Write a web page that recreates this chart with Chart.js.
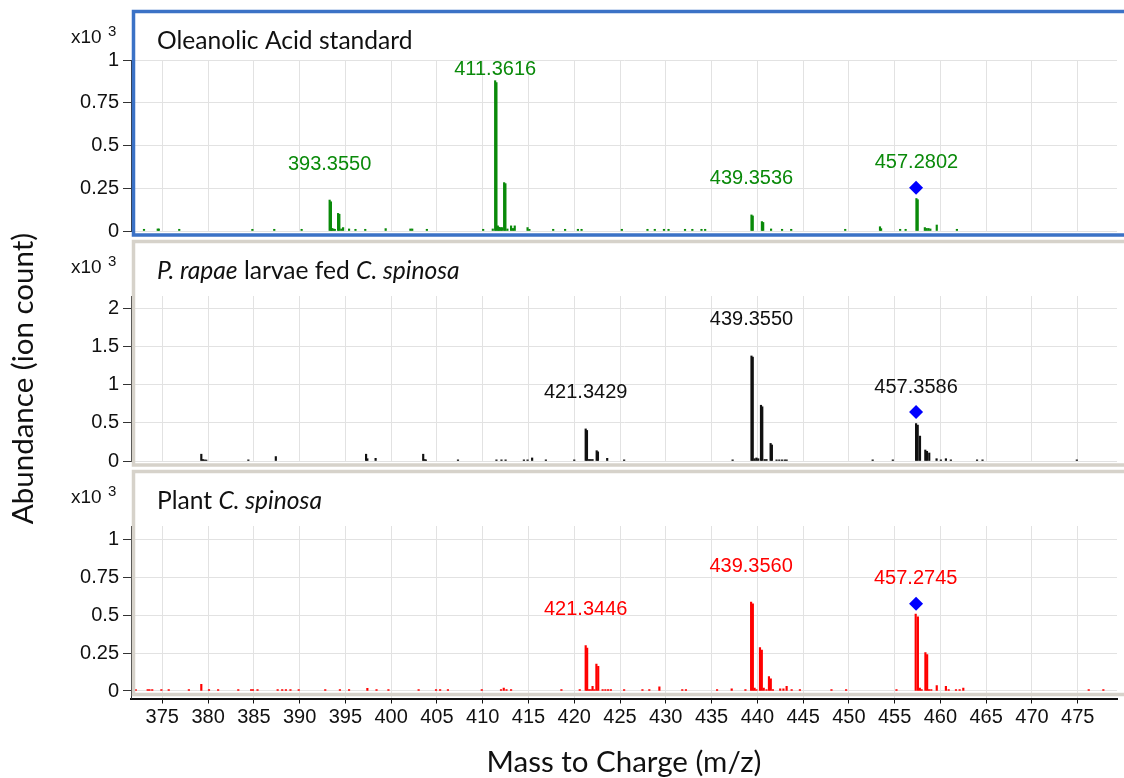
<!DOCTYPE html>
<html>
<head>
<meta charset="utf-8">
<script src="https://cdn.jsdelivr.net/npm/chart.js@4.4.1/dist/chart.umd.min.js"></script>
<style>
  body { margin: 0; background: #fff; }
  #wrap { position: relative; width: 1124px; height: 778px; overflow: hidden; }
  #wrap canvas { position: absolute; left: 0; top: 0; }
</style>
</head>
<body>
<div id="wrap">
  <canvas id="oleanolicChart" width="1124" height="778"></canvas>
  <canvas id="larvaeChart" width="1124" height="778"></canvas>
  <canvas id="plantChart" width="1124" height="778"></canvas>
</div>
<script>
// x axis (m/z)
const mzTicks = [375, 380, 385, 390, 395, 400, 405, 410, 415, 420, 425, 430, 435, 440, 445, 450, 455, 460, 465, 470, 475];
const mzMin = 371.58;
const mzMax = 479.29;

// y ticks (x10^3 counts)
const oleanolicTicks = [0, 0.25, 0.5, 0.75, 1];
const larvaeTicks = [0, 0.5, 1, 1.5, 2];
const plantTicks = [0, 0.25, 0.5, 0.75, 1];

// Oleanolic acid standard
const oleanolicMz = [373.0, 374.5, 374.62, 376.85, 384.84, 387.23, 390.22, 393.28, 393.42, 393.55, 393.7, 393.85, 394.2, 394.34, 394.55, 394.75, 395.4, 396.1, 397.17, 399.4, 402.1, 402.3, 403.9, 410.05, 411.1, 411.36, 411.5, 411.65, 411.8, 411.95, 412.1, 412.34, 412.48, 412.7, 413.1, 413.3, 413.5, 414.9, 415.1, 417.7, 419.0, 420.4, 420.8, 425.2, 428.0, 428.8, 429.8, 430.3, 432.1, 432.9, 433.9, 434.3, 439.36, 439.5, 440.5, 440.64, 441.5, 442.7, 443.7, 449.6, 453.4, 453.52, 455.6, 456.2, 457.38, 457.52, 458.3, 458.5, 458.7, 458.9, 459.6, 461.8];
const oleanolicAbundance = [0.01, 0.012, 0.012, 0.01, 0.01, 0.01, 0.01, 0.181, 0.171, 0.015, 0.012, 0.01, 0.103, 0.098, 0.012, 0.02, 0.012, 0.01, 0.01, 0.014, 0.012, 0.012, 0.01, 0.01, 0.012, 0.879, 0.868, 0.03, 0.022, 0.02, 0.02, 0.283, 0.277, 0.012, 0.03, 0.015, 0.03, 0.02, 0.01, 0.01, 0.01, 0.01, 0.01, 0.01, 0.01, 0.01, 0.01, 0.01, 0.01, 0.01, 0.01, 0.01, 0.094, 0.088, 0.055, 0.05, 0.012, 0.01, 0.01, 0.01, 0.025, 0.014, 0.01, 0.01, 0.19, 0.183, 0.02, 0.015, 0.015, 0.012, 0.035, 0.01];
const oleanolicPeaks = ["393.3550", "411.3616", "439.3536", "457.2802"];

// P. rapae larvae fed C. spinosa
const larvaeMz = [379.26, 379.42, 379.6, 379.8, 384.4, 387.4, 397.26, 397.4, 398.3, 403.5, 403.65, 403.8, 407.3, 411.5, 412.05, 412.5, 414.5, 414.9, 415.4, 416.9, 420.0, 421.25, 421.39, 421.6, 421.8, 422.0, 422.45, 422.59, 423.6, 425.45, 437.3, 439.36, 439.5, 439.7, 439.9, 440.1, 440.4, 440.54, 440.8, 441.0, 441.45, 441.59, 442.1, 442.4, 442.7, 443.0, 443.2, 452.6, 454.8, 457.34, 457.52, 457.77, 458.35, 458.53, 458.78, 459.58, 460.05, 460.6, 461.14, 464.0, 464.6, 474.9];
const larvaeAbundance = [0.089, 0.02, 0.015, 0.013, 0.015, 0.058, 0.089, 0.03, 0.035, 0.089, 0.02, 0.015, 0.015, 0.015, 0.015, 0.015, 0.015, 0.015, 0.04, 0.015, 0.015, 0.42, 0.4, 0.02, 0.02, 0.02, 0.135, 0.12, 0.035, 0.015, 0.015, 1.375, 1.36, 0.03, 0.04, 0.03, 0.73, 0.71, 0.02, 0.02, 0.23, 0.21, 0.015, 0.015, 0.015, 0.015, 0.015, 0.015, 0.015, 0.49, 0.47, 0.326, 0.144, 0.127, 0.105, 0.03, 0.015, 0.03, 0.015, 0.015, 0.015, 0.015];
const larvaePeaks = ["421.3429", "439.3550", "457.3586"];

// Plant C. spinosa
const plantMz = [372.1, 373.4, 373.6, 373.9, 374.9, 375.7, 377.9, 379.26, 380.1, 381.1, 383.3, 384.7, 384.9, 385.4, 387.6, 388.1, 388.5, 389.0, 389.9, 392.8, 394.4, 395.4, 397.4, 398.4, 399.7, 403.0, 404.9, 405.35, 406.2, 409.9, 412.0, 412.3, 412.6, 413.1, 418.6, 420.6, 421.25, 421.41, 421.6, 421.8, 422.0, 422.2, 422.42, 422.62, 423.1, 423.4, 423.7, 424.0, 425.45, 427.45, 428.2, 429.3, 431.8, 432.2, 435.6, 437.2, 438.7, 439.32, 439.51, 439.7, 439.9, 440.29, 440.49, 440.7, 441.0, 441.27, 441.47, 441.7, 442.5, 442.85, 443.2, 443.75, 444.65, 448.1, 449.7, 455.2, 457.3, 457.54, 457.75, 457.95, 458.36, 458.55, 458.75, 459.0, 459.6, 460.6, 460.9, 461.7, 462.1, 462.5, 476.2, 477.8];
const plantAbundance = [0.01, 0.01, 0.01, 0.01, 0.01, 0.01, 0.01, 0.044, 0.01, 0.01, 0.01, 0.01, 0.01, 0.01, 0.01, 0.01, 0.01, 0.01, 0.01, 0.01, 0.01, 0.01, 0.018, 0.01, 0.01, 0.01, 0.01, 0.01, 0.01, 0.01, 0.01, 0.02, 0.01, 0.01, 0.01, 0.01, 0.3, 0.283, 0.01, 0.01, 0.03, 0.01, 0.177, 0.163, 0.01, 0.01, 0.01, 0.01, 0.01, 0.01, 0.01, 0.028, 0.01, 0.01, 0.01, 0.015, 0.01, 0.587, 0.576, 0.02, 0.01, 0.287, 0.27, 0.02, 0.01, 0.095, 0.08, 0.01, 0.015, 0.015, 0.03, 0.01, 0.01, 0.01, 0.01, 0.01, 0.508, 0.49, 0.02, 0.01, 0.253, 0.24, 0.01, 0.01, 0.035, 0.03, 0.01, 0.01, 0.01, 0.02, 0.01, 0.01];
const plantPeaks = ["421.3446", "439.3560", "457.2745"];

// precursor marker (blue diamond)
const precursorMz = 457.34;
const oleanolicPrecursor = 0.253;
const larvaePrecursor = 0.64;
const plantPrecursor = 0.576;

// panel titles: [text, italic]
const oleanolicTitle = [["Oleanolic Acid standard", false]];
const larvaeTitle = [["P. rapae", true], [" larvae fed ", false], ["C. spinosa", true]];
const plantTitle = [["Plant ", false], ["C. spinosa", true]];

const tickFont = "'Liberation Sans', Arial, sans-serif";
const titleFont = "Lato, 'Open Sans', sans-serif";

// draws the panel frame, the title, the x10^3 note and the peak labels
const panelFrame = {
  id: "panelFrame",
  afterDatasetsDraw(chart, args, opts) {
    const ctx = chart.ctx;
    const area = chart.chartArea;
    const pts = chart.data.datasets[0].data;
    ctx.save();
    ctx.beginPath();
    ctx.rect(area.left, area.top, area.right - area.left, area.bottom - area.top);
    ctx.clip();
    ctx.font = "20px " + tickFont;
    ctx.fillStyle = opts.labelColor;
    ctx.textAlign = "center";
    ctx.textBaseline = "middle";
    opts.peaks.forEach((label) => {
      const target = parseFloat(label);
      let best = null;
      pts.forEach((p) => {
        if (Math.abs(p.x - target) < 0.5 && (!best || p.y > best.y)) best = p;
      });
      const px = chart.scales.x.getPixelForValue(best.x);
      const py = Math.max(chart.scales.y.getPixelForValue(best.y) - 36, area.top + 9);
      ctx.fillText(label, px, py);
    });
    ctx.restore();
  },
  afterDraw(chart, args, opts) {
    const ctx = chart.ctx;
    ctx.save();
    ctx.strokeStyle = opts.borderColor;
    ctx.lineWidth = 3.5;
    ctx.strokeRect(133.5, opts.top, 1000, opts.bottom - opts.top);

    ctx.fillStyle = "#111";
    ctx.textAlign = "left";
    ctx.textBaseline = "alphabetic";
    ctx.font = "19px " + tickFont;
    ctx.fillText("x10", 71, opts.top + 31.5);
    ctx.font = "15px " + tickFont;
    ctx.fillText("3", 108, opts.top + 24);

    let x = 157;
    opts.title.forEach(([text, italic]) => {
      ctx.font = (italic ? "italic " : "") + "24.6px " + titleFont;
      ctx.fillText(text, x, opts.top + 37.5);
      x += ctx.measureText(text).width;
    });
    ctx.restore();
  },
};

const makeSpectrum = (canvasId, setup) => {
  const ctx = document.getElementById(canvasId).getContext("2d");
  return new Chart(ctx, {
    type: "bar",
    data: {
      datasets: [
        {
          data: setup.mz.map((x, i) => ({ x: x, y: setup.abundance[i] })),
          backgroundColor: setup.color,
          borderWidth: 0,
          barThickness: 1.5,
          order: 1,
        },
        {
          type: "scatter",
          data: [{ x: precursorMz, y: setup.precursor }],
          pointStyle: "rectRot",
          pointRadius: 7,
          backgroundColor: "#0000ff",
          borderWidth: 0,
          order: 0,
        },
      ],
    },
    options: {
      responsive: false,
      animation: false,
      devicePixelRatio: 1,
      layout: {
        padding: { left: 0, right: 2, top: setup.plotTop, bottom: setup.padBottom },
      },
      plugins: {
        legend: { display: false },
        tooltip: { enabled: false },
        panelFrame: {
          borderColor: setup.frameColor,
          top: setup.frameTop,
          bottom: setup.frameBottom,
          title: setup.title,
          peaks: setup.peaks,
          labelColor: setup.labelColor,
        },
      },
      scales: {
        x: {
          type: "linear",
          min: mzMin,
          max: mzMax,
          offset: false,
          afterBuildTicks: (scale) => {
            scale.ticks = mzTicks.map((v) => ({ value: v }));
          },
          afterFit: (scale) => {
            scale.height = setup.xAxis ? 79.5 : 0;
          },
          border: { display: setup.xAxis, color: "#111", width: 2 },
          grid: {
            offset: false,
            color: "#e2e2e2",
            tickColor: "#111",
            tickLength: 5,
            drawTicks: setup.xAxis,
          },
          ticks: {
            display: setup.xAxis,
            padding: 2,
            color: "#111",
            font: { family: tickFont, size: 20 },
            maxRotation: 0,
            callback: (v) => String(v),
          },
          title: {
            display: setup.xAxis,
            text: "Mass to Charge (m/z)",
            color: "#111",
            font: { family: titleFont, size: 29.5, lineHeight: 1.05 },
            padding: 0,
          },
        },
        y: {
          min: setup.yMin,
          max: setup.yMax,
          afterBuildTicks: (scale) => {
            scale.ticks = setup.yTicks.map((v) => ({ value: v }));
          },
          afterFit: (scale) => {
            scale.width = 131;
          },
          border: { color: "#333", width: 1 },
          grid: { color: "#e2e2e2", tickColor: "#333", tickLength: 8 },
          ticks: {
            padding: 4,
            color: "#111",
            font: { family: tickFont, size: 20 },
            callback: (v) => String(v),
          },
          title: {
            display: setup.yTitle,
            text: "Abundance (ion count)",
            color: "#111",
            font: { family: titleFont, size: 29.5 },
            padding: { top: 6, bottom: 0 },
          },
        },
      },
    },
    plugins: [panelFrame],
  });
};

makeSpectrum("oleanolicChart", {
  mz: oleanolicMz,
  abundance: oleanolicAbundance,
  precursor: oleanolicPrecursor,
  peaks: oleanolicPeaks,
  title: oleanolicTitle,
  yTicks: oleanolicTicks,
  yMin: 0,
  yMax: 1,
  color: "#0a8a0a",
  labelColor: "#0a8a0a",
  frameColor: "#3b72c6",
  frameTop: 11.5,
  frameBottom: 235,
  plotTop: 60,
  padBottom: 547,
  xAxis: false,
  yTitle: false,
});

makeSpectrum("larvaeChart", {
  mz: larvaeMz,
  abundance: larvaeAbundance,
  precursor: larvaePrecursor,
  peaks: larvaePeaks,
  title: larvaeTitle,
  yTicks: larvaeTicks,
  yMin: 0,
  yMax: 2.16,
  color: "#111",
  labelColor: "#111",
  frameColor: "#d6d2ca",
  frameTop: 241.5,
  frameBottom: 465,
  plotTop: 296,
  padBottom: 317,
  xAxis: false,
  yTitle: true,
});

makeSpectrum("plantChart", {
  mz: plantMz,
  abundance: plantAbundance,
  precursor: plantPrecursor,
  peaks: plantPeaks,
  title: plantTitle,
  yTicks: plantTicks,
  yMin: -0.0496,
  yMax: 1.09,
  color: "#ff0000",
  labelColor: "#ff0000",
  frameColor: "#d6d2ca",
  frameTop: 471.5,
  frameBottom: 694.5,
  plotTop: 526,
  padBottom: 0,
  xAxis: true,
  yTitle: false,
});
</script>
</body>
</html>
